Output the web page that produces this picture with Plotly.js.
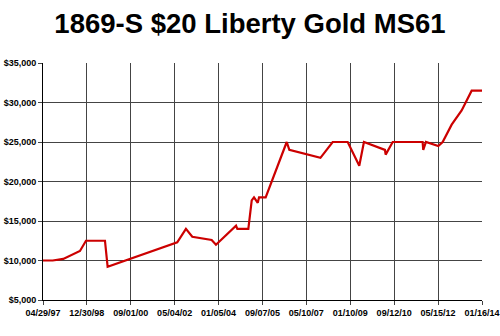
<!DOCTYPE html>
<html>
<head>
<meta charset="utf-8">
<script src="https://cdn.plot.ly/plotly-3.0.1.min.js"></script>
<style>html,body{margin:0;padding:0;background:#fff;}#chart{width:500px;height:336px;}</style>
</head>
<body>
<div id="chart"></div>
<script>
const saleDates = [
  '1997-04-29','1997-09-11','1998-02-05','1998-09-25','1998-12-18','1999-09-08','1999-10-15',
  '2002-06-09','2002-10-08','2003-01-04','2003-10-01','2003-11-30','2004-09-04','2004-09-22',
  '2005-02-22','2005-04-10','2005-05-12','2005-07-03','2005-07-21','2005-10-21','2006-08-10',
  '2006-09-15','2007-11-22','2008-05-10','2008-12-05','2009-05-15','2009-07-19','2010-05-07',
  '2010-05-17','2010-08-23','2011-10-13','2011-10-22','2011-11-28','2012-05-18','2012-07-18',
  '2012-11-20','2013-04-08','2013-08-25','2014-01-16'
];
const prices = [
  10000,10000,10200,11200,12500,12500,9200,
  12300,14000,13000,12600,12000,14400,14000,
  14000,17600,18000,17300,18000,18000,25000,
  24000,23000,25000,25000,22000,25000,24000,
  23400,25000,25000,24000,25000,24500,25000,
  27200,29000,31500,31500
];
const tickDates = ['1997-04-29','1998-12-30','2000-09-01','2002-05-04','2004-01-05','2005-09-07',
  '2007-05-10','2009-01-10','2010-09-12','2012-05-15','2014-01-16'];
const tickLabels = ['04/29/97','12/30/98','09/01/00','05/04/02','01/05/04','09/07/05',
  '05/10/07','01/10/09','09/12/10','05/15/12','01/16/14'];
const yTicks = [5000,10000,15000,20000,25000,30000,35000];
const yLabels = ['$5,000','$10,000','$15,000','$20,000','$25,000','$30,000','$35,000'];

const tickFont = {family:'Liberation Sans, Arial, sans-serif', size:9, color:'#000', weight:'bold'};

Plotly.newPlot('chart', [{
  x: saleDates, y: prices, type:'scatter', mode:'lines',
  line:{color:'#cc0000', width:2.2}, hoverinfo:'skip'
}], {
  width:500, height:336,
  margin:{l:43, r:18, t:63, b:36},
  paper_bgcolor:'#fff', plot_bgcolor:'#fff',
  showlegend:false,
  title:{text:'<b>1869-S $20 Liberty Gold MS61</b>', font:{family:'Liberation Sans, Arial, sans-serif', size:27.5, color:'#000'},
    x:0.5, xanchor:'center', xref:'container', y:0.93, yanchor:'middle', yref:'container'},
  xaxis:{type:'date', range:['1997-04-29','2014-01-16'], tickmode:'array', tickvals:tickDates, ticktext:tickLabels,
    showgrid:true, gridcolor:'#444', gridwidth:1, showline:true, linecolor:'#000', linewidth:1,
    ticks:'outside', ticklen:4, tickcolor:'#444', tickfont:tickFont, zeroline:false, fixedrange:true,
    ticklabeloverflow:'allow'},
  yaxis:{range:[5000,35000], tickmode:'array', tickvals:yTicks, ticktext:yLabels,
    showgrid:true, gridcolor:'#444', gridwidth:1, showline:true, linecolor:'#000', linewidth:1,
    ticks:'outside', ticklen:4, tickcolor:'#444', tickfont:tickFont, zeroline:false, fixedrange:true,
    ticklabeloverflow:'allow'}
}, {displayModeBar:false, staticPlot:true});
</script>
</body>
</html>
